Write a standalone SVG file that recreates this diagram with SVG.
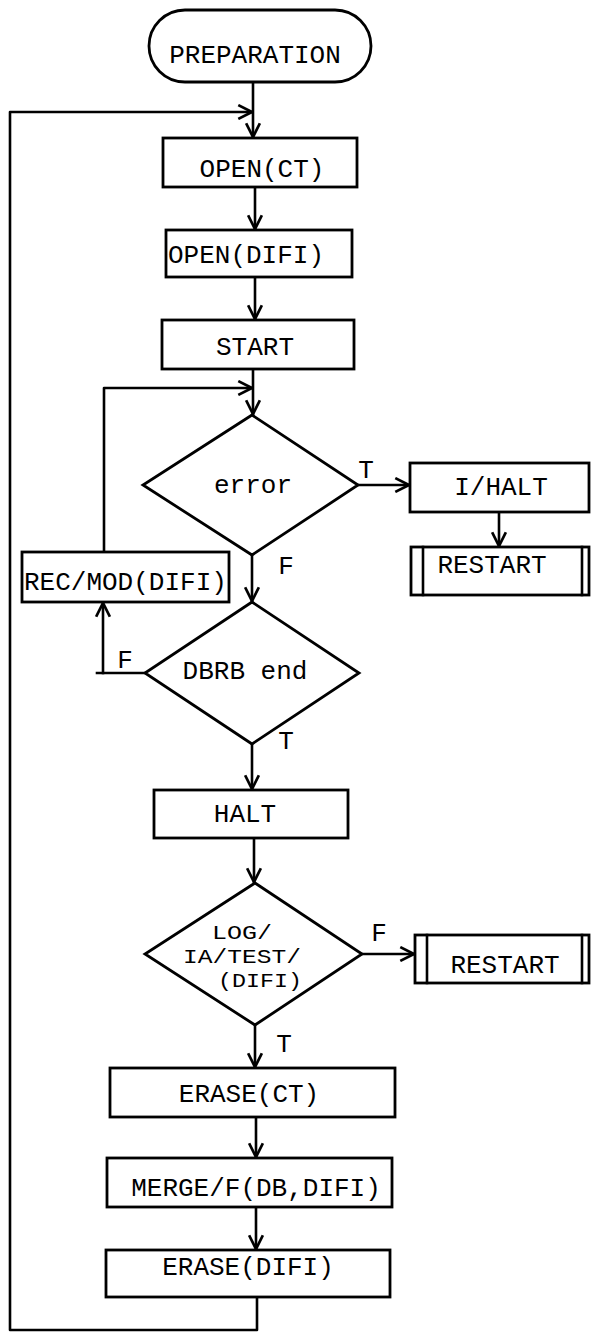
<svg xmlns="http://www.w3.org/2000/svg" width="591" height="1334" viewBox="0 0 591 1334">
<style>
.s{fill:none;stroke:#000;stroke-width:2.6;stroke-linejoin:round;stroke-linecap:square}
.b{fill:#fff;stroke:#000;stroke-width:2.8}
.t{font-family:"Liberation Mono","Courier New",monospace;font-size:26px;fill:#000}
.m{text-anchor:middle}
.d{font-size:21px}
</style>
<defs>
<marker id="a" markerUnits="userSpaceOnUse" markerWidth="16" markerHeight="16" viewBox="0 0 14 14" refX="13" refY="7" orient="auto">
<path d="M1,1 L13,7 L1,13" fill="none" stroke="#000" stroke-width="2.4"/>
</marker>
</defs>
<rect width="591" height="1334" fill="#fff"/>
<g id="connectors" class="s">
<path d="M253,82 V137" marker-end="url(#a)"/>
<path d="M257,1297 V1330 H10 V112 H252" marker-end="url(#a)"/>
<path d="M255,187 V229" marker-end="url(#a)"/>
<path d="M255,277 V319" marker-end="url(#a)"/>
<path d="M253,369 V414" marker-end="url(#a)"/>
<path d="M104,552 V388 H252" marker-end="url(#a)"/>
<path d="M358,485 H409" marker-end="url(#a)"/>
<path d="M499,512 V546" marker-end="url(#a)"/>
<path d="M252,555 V601" marker-end="url(#a)"/>
<path d="M145,673 H97"/>
<path d="M103,673 V603" marker-end="url(#a)"/>
<path d="M252,744 V789" marker-end="url(#a)"/>
<path d="M254,838 V882" marker-end="url(#a)"/>
<path d="M362,954 H414" marker-end="url(#a)"/>
<path d="M255,1025 V1067" marker-end="url(#a)"/>
<path d="M256,1117 V1157" marker-end="url(#a)"/>
<path d="M256,1207 V1249" marker-end="url(#a)"/>
</g>
<g id="preparation"><rect class="b" x="149" y="10" width="222" height="72" rx="36"/><text class="t m" x="255" y="63">PREPARATION</text></g>
<g id="open_ct"><rect class="b" x="163" y="138" width="194" height="49"/><text class="t m" x="262" y="177">OPEN(CT)</text></g>
<g id="open_difi"><rect class="b" x="166" y="230" width="186" height="47"/><text class="t" x="168" y="263">OPEN(DIFI)</text></g>
<g id="start"><rect class="b" x="162" y="320" width="192" height="49"/><text class="t m" x="255" y="355">START</text></g>
<g id="error"><polygon class="b" points="252,415 358,485 252,555 143,485"/><text class="t m" x="253" y="493">error</text></g>
<g id="ihalt"><rect class="b" x="410" y="463" width="179" height="49"/><text class="t m" x="501" y="495">I/HALT</text></g>
<g id="restart1"><rect class="b" x="411" y="547" width="178" height="48"/><path class="s" d="M423,547 V595 M582,547 V595"/><text class="t m" x="492" y="573">RESTART</text></g>
<g id="recmod"><rect class="b" x="22" y="552" width="207" height="50"/><text class="t" x="24" y="590">REC/MOD(DIFI)</text></g>
<g id="dbrb"><polygon class="b" points="252,602 359,673 252,744 145,673"/><text class="t m" x="245" y="679">DBRB end</text></g>
<g id="halt"><rect class="b" x="154" y="790" width="194" height="48"/><text class="t m" x="245" y="822">HALT</text></g>
<g id="logtest"><polygon class="b" points="255,883 362,954 255,1025 145,954"/><text class="t d" x="212" y="939" textLength="60" lengthAdjust="spacingAndGlyphs">LOG/</text><text class="t d" x="183" y="963" textLength="118" lengthAdjust="spacingAndGlyphs">IA/TEST/</text><text class="t d" x="218" y="987" textLength="84" lengthAdjust="spacingAndGlyphs">(DIFI)</text></g>
<g id="restart2"><rect class="b" x="415" y="935" width="174" height="48"/><path class="s" d="M427,935 V983 M582,935 V983"/><text class="t m" x="505" y="973">RESTART</text></g>
<g id="erase_ct"><rect class="b" x="110" y="1068" width="285" height="49"/><text class="t m" x="249" y="1102">ERASE(CT)</text></g>
<g id="merge"><rect class="b" x="107" y="1158" width="285" height="49"/><text class="t m" x="256" y="1196">MERGE/F(DB,DIFI)</text></g>
<g id="erase_difi"><rect class="b" x="106" y="1250" width="284" height="47"/><text class="t m" x="248" y="1275">ERASE(DIFI)</text></g>
<g id="labels">
<text class="t m" x="366" y="478">T</text>
<text class="t m" x="286" y="574">F</text>
<text class="t m" x="125" y="668">F</text>
<text class="t m" x="286" y="749">T</text>
<text class="t m" x="379" y="941">F</text>
<text class="t m" x="284" y="1052">T</text>
</g>
</svg>
